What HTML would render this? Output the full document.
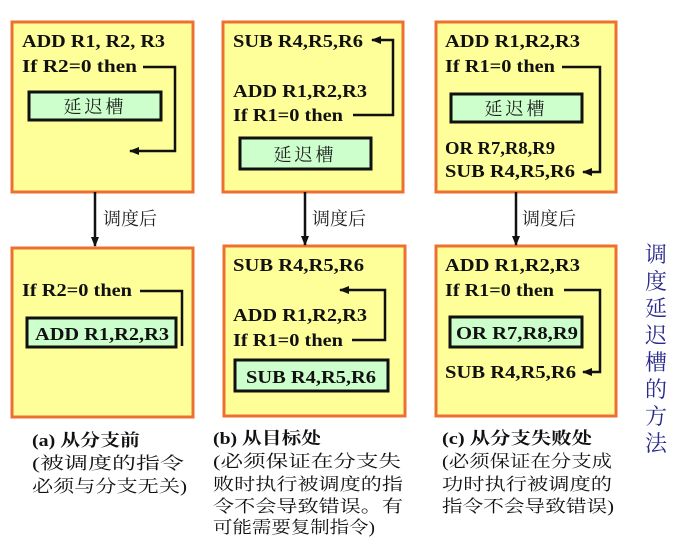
<!DOCTYPE html>
<html><head><meta charset="utf-8"><style>
body{margin:0;background:#fff;width:680px;height:544px;overflow:hidden}
svg{display:block}
.c{font-family:"Liberation Serif","Noto Serif CJK SC",serif;font-weight:bold;font-size:18px;fill:#111}
.z{font-family:"Liberation Serif","Noto Serif CJK SC",serif;font-size:18px;fill:#222}
.cap{font-family:"Liberation Serif","Noto Serif CJK SC",serif;font-size:17px;fill:#111}
.v{font-family:"Noto Serif CJK SC",serif;font-size:22px;fill:#2a2a8e}
</style></head><body>
<svg width="680" height="544" viewBox="0 0 680 544" xmlns="http://www.w3.org/2000/svg">
<defs><marker id="a" markerWidth="10" markerHeight="8" refX="9" refY="4" orient="auto" markerUnits="userSpaceOnUse"><path d="M0,0 L10,4 L0,8 Z" fill="#111"/></marker></defs>
<g fill="#ffff99" stroke="#ee7030" stroke-width="3">
<rect x="12" y="22" width="181" height="170"/>
<rect x="223" y="22" width="180" height="170"/>
<rect x="436" y="22" width="180" height="170"/>
<rect x="12" y="248" width="181" height="169"/>
<rect x="224" y="246" width="181" height="170"/>
<rect x="436" y="246" width="180" height="170"/>
</g>
<g fill="#ccffcc" stroke="#111" stroke-width="3">
<rect x="29" y="92" width="132" height="28"/>
<rect x="240" y="138" width="131" height="31"/>
<rect x="451" y="94" width="131" height="28"/>
<rect x="27" y="318" width="149" height="29"/>
<rect x="235" y="360" width="153" height="31"/>
<rect x="450" y="317" width="132" height="30"/>
</g>
<g fill="none" stroke="#111" stroke-width="2.5">
<path d="M143,67 H175 V151 H130" marker-end="url(#a)"/>
<path d="M353,115 H393 V40 H372" marker-end="url(#a)"/>
<path d="M562,67 H600 V172 H583" marker-end="url(#a)"/>
<path d="M140,291 H182 V346"/>
<path d="M352,340 H385 V290 H340" marker-end="url(#a)"/>
<path d="M564,290 H600 V372 H583" marker-end="url(#a)"/>
<path d="M95,192 V246" marker-end="url(#a)"/>
<path d="M305,192 V245" marker-end="url(#a)"/>
<path d="M516,192 V245" marker-end="url(#a)"/>
</g>
<text class="c" x="22" y="47" textLength="143" lengthAdjust="spacingAndGlyphs">ADD R1, R2, R3</text>
<text class="c" x="22" y="72" textLength="115" lengthAdjust="spacingAndGlyphs">If  R2=0 then</text>
<text class="z" x="95" y="113" text-anchor="middle" letter-spacing="3">延迟槽</text>
<text class="c" x="233" y="47" textLength="130" lengthAdjust="spacingAndGlyphs">SUB R4,R5,R6</text>
<text class="c" x="233" y="97" textLength="134" lengthAdjust="spacingAndGlyphs">ADD R1,R2,R3</text>
<text class="c" x="233" y="121" textLength="110" lengthAdjust="spacingAndGlyphs">If R1=0 then</text>
<text class="z" x="305" y="161" text-anchor="middle" letter-spacing="3">延迟槽</text>
<text class="c" x="445" y="47" textLength="135" lengthAdjust="spacingAndGlyphs">ADD R1,R2,R3</text>
<text class="c" x="445" y="72" textLength="110" lengthAdjust="spacingAndGlyphs">If R1=0 then</text>
<text class="z" x="516" y="115" text-anchor="middle" letter-spacing="3">延迟槽</text>
<text class="c" x="445" y="154" textLength="110" lengthAdjust="spacingAndGlyphs">OR R7,R8,R9</text>
<text class="c" x="445" y="177" textLength="130" lengthAdjust="spacingAndGlyphs">SUB R4,R5,R6</text>
<text class="c" x="22" y="296" textLength="110" lengthAdjust="spacingAndGlyphs">If R2=0 then</text>
<text class="c" x="35" y="340" textLength="134" lengthAdjust="spacingAndGlyphs">ADD R1,R2,R3</text>
<text class="c" x="233" y="271" textLength="131" lengthAdjust="spacingAndGlyphs">SUB R4,R5,R6</text>
<text class="c" x="233" y="321" textLength="134" lengthAdjust="spacingAndGlyphs">ADD R1,R2,R3</text>
<text class="c" x="233" y="346" textLength="110" lengthAdjust="spacingAndGlyphs">If R1=0 then</text>
<text class="c" x="246" y="383" textLength="130" lengthAdjust="spacingAndGlyphs">SUB R4,R5,R6</text>
<text class="c" x="445" y="271" textLength="135" lengthAdjust="spacingAndGlyphs">ADD R1,R2,R3</text>
<text class="c" x="445" y="296" textLength="109" lengthAdjust="spacingAndGlyphs">If R1=0 then</text>
<text class="c" x="456" y="339" textLength="122" lengthAdjust="spacingAndGlyphs">OR R7,R8,R9</text>
<text class="c" x="445" y="378" textLength="131" lengthAdjust="spacingAndGlyphs">SUB R4,R5,R6</text>
<text class="z" x="103" y="225">调度后</text>
<text class="z" x="312" y="225">调度后</text>
<text class="z" x="522" y="225">调度后</text>
<g class="cap">
<text x="32" y="446" textLength="108" lengthAdjust="spacingAndGlyphs" font-weight="bold">(a) 从分支前</text>
<text x="32" y="469" textLength="152" lengthAdjust="spacingAndGlyphs">(被调度的指令</text>
<text x="32" y="492" textLength="155" lengthAdjust="spacingAndGlyphs">必须与分支无关)</text>
<text x="213" y="444" textLength="108" lengthAdjust="spacingAndGlyphs" font-weight="bold">(b) 从目标处</text>
<text x="213" y="467" textLength="188" lengthAdjust="spacingAndGlyphs">(必须保证在分支失</text>
<text x="213" y="490" textLength="190" lengthAdjust="spacingAndGlyphs">败时执行被调度的指</text>
<text x="213" y="512" textLength="190" lengthAdjust="spacingAndGlyphs">令不会导致错误。有</text>
<text x="213" y="533" textLength="162" lengthAdjust="spacingAndGlyphs">可能需要复制指令)</text>
<text x="442" y="444" textLength="150" lengthAdjust="spacingAndGlyphs" font-weight="bold">(c) 从分支失败处</text>
<text x="442" y="467" textLength="170" lengthAdjust="spacingAndGlyphs">(必须保证在分支成</text>
<text x="442" y="490" textLength="170" lengthAdjust="spacingAndGlyphs">功时执行被调度的</text>
<text x="442" y="512" textLength="172" lengthAdjust="spacingAndGlyphs">指令不会导致错误)</text>
</g>
<g class="v" text-anchor="middle">
<text x="656" y="262">调</text><text x="656" y="289">度</text><text x="656" y="316">延</text><text x="656" y="343">迟</text>
<text x="656" y="370">槽</text><text x="656" y="397">的</text><text x="656" y="424">方</text><text x="656" y="451">法</text>
</g>
</svg>
</body></html>
